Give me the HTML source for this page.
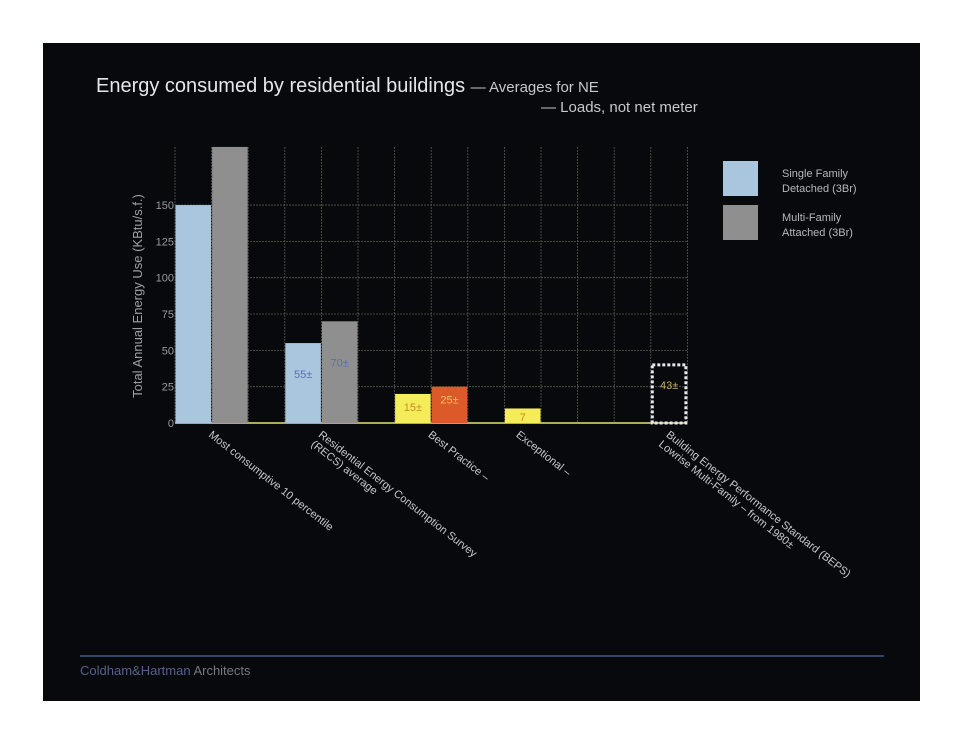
<!DOCTYPE html>
<html><head><meta charset="utf-8"><style>
body{margin:0;background:#fff;width:964px;height:745px;overflow:hidden;font-family:"Liberation Sans",sans-serif}
#slide{position:absolute;left:43px;top:43px;width:877px;height:658px;background:#07090c}
</style></head><body>
<div id="slide"></div>
<svg width="964" height="745" style="position:absolute;left:0;top:0">
<text x="96" y="92" fill="#e6e6ea" font-size="20">Energy consumed by residential buildings <tspan font-size="15" fill="#c8c8cc">— Averages for NE</tspan></text>
<text x="541" y="112" fill="#c8c8cc" font-size="15">— Loads, not net meter</text>
<g id="grid"></g><g id="bars"></g><g id="yticks"></g><g id="xlabels"></g>
<text transform="translate(142,296) rotate(-90)" text-anchor="middle" fill="#a0a0a4" font-size="13">Total Annual Energy Use (KBtu/s.f.)</text>
<rect x="723" y="161" width="35" height="35" fill="#a9c6de"/>
<text x="782" y="177" fill="#b8b8bc" font-size="11">Single Family<tspan x="782" dy="15">Detached (3Br)</tspan></text>
<rect x="723" y="205" width="35" height="35" fill="#8f8f8f"/>
<text x="782" y="221" fill="#b8b8bc" font-size="11">Multi-Family<tspan x="782" dy="15">Attached (3Br)</tspan></text>
<line x1="80" y1="656" x2="884" y2="656" stroke="#3c5a85" stroke-width="1.5"/>
<text x="80" y="675" font-size="13"><tspan fill="#5a5f8e">Coldham&amp;Hartman</tspan><tspan fill="#77777c"> Architects</tspan></text>
</svg>
<script>
const yTicks=[0,25,50,75,100,125,150];
const categories=["Most consumptive 10 percentile","Residential Energy Consumption Survey|(RECS) average","Best Practice –","Exceptional –","Building Energy Performance Standard (BEPS)|Lowrise Multi-Family – from 1980±"];
const slots=[0,1,3,4,6,7,9,13];
const values=[150,190,55,70,20,25,10,40];
const valueLabels=["","","55±","70±","15±","25±","7","43±"];
const barKinds=["sf","mf","sf","mf","yellow","orange","yellow","dashed"];
const labelSlots=[0.9,3.9,6.9,9.3,13.4];
const NS="http://www.w3.org/2000/svg";
const x0=175,slotW=36.6,y0=423,k=1.453,xEnd=687,yTop=147;
const X=s=>x0+s*slotW, Y=v=>y0-v*k;
function mk(t,a,p){const e=document.createElementNS(NS,t);for(const q in a)e.setAttribute(q,a[q]);document.getElementById(p).appendChild(e);return e;}
for(let i=0;i<=14;i++){const x=X(i);if(x>xEnd+1)break;
const l=mk('line',{x1:x,y1:yTop,x2:x,y2:y0,stroke:'#55584a','stroke-width':0.8,'stroke-dasharray':'2 1'},'grid');

}
yTicks.forEach(v=>{
if(v>0){const l=mk('line',{x1:x0,y1:Y(v),x2:xEnd,y2:Y(v),stroke:'#55584a','stroke-width':0.8,'stroke-dasharray':'2 1'},'grid');

}
const t=mk('text',{x:x0-1,y:Y(v)+4,'text-anchor':'end',fill:'#9a9a9e','font-size':11},'yticks');t.textContent=v;

});
const base=mk('line',{x1:x0,y1:y0,x2:xEnd,y2:y0,stroke:'#e8e07a','stroke-width':1.5},'grid');


const fills={sf:'#a9c6de',mf:'#8f8f8f',yellow:'#f5ec5a',orange:'#dc5a2a'};
const lblColor={sf:'#5a6fb0',mf:'#5a6fb0',yellow:'#c98a2a',orange:'#f0c060',dashed:'#c8b060'};
values.forEach((v,i)=>{const s=slots[i],kd=barKinds[i];let r;
if(kd==='dashed'){r=mk('rect',{x:X(s)+1.5,y:Y(v),width:slotW-3,height:v*k,fill:'none',stroke:'#e8e8ee','stroke-width':3,'stroke-dasharray':'3 2'},'bars');}
else r=mk('rect',{x:X(s)+0.5,y:Y(v),width:slotW-1,height:v*k,fill:fills[kd]},'bars');


if(valueLabels[i]){const ty=kd==='yellow'&&v<12?y0-2:Y(v)+(kd==='dashed'?24:kd==='sf'?35:kd==='mf'?45:17);
const t=mk('text',{x:X(s)+slotW/2,y:ty,'text-anchor':'middle',fill:lblColor[kd],'font-size':11},'bars');t.textContent=valueLabels[i];

}});
categories.forEach((c,i)=>{const lines=c.split('|');const x=X(labelSlots[i]);
const t=mk('text',{transform:`translate(${x},${436}) rotate(38)`,fill:'#c8c8cc','font-size':11},'xlabels');
lines.forEach((ln,j)=>{const sp=document.createElementNS(NS,'tspan');sp.setAttribute('x',0);sp.setAttribute('y',j*12);sp.textContent=ln;t.appendChild(sp);});

});
</script>
</body></html>
